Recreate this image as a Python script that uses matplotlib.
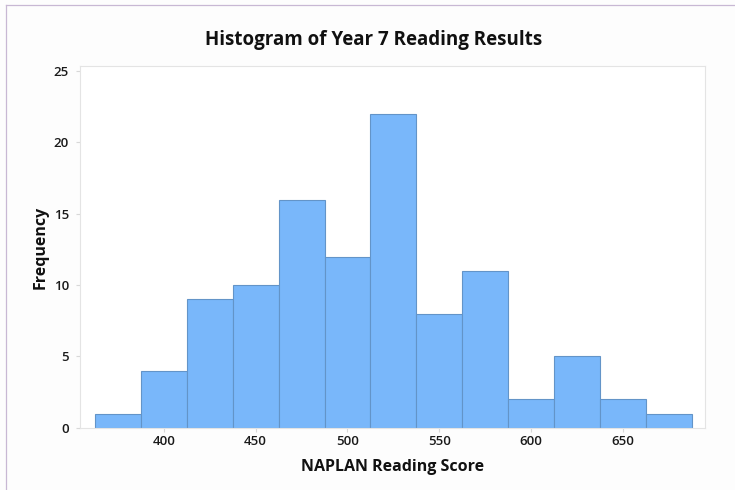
import numpy as np
import matplotlib.pyplot as plt
from matplotlib.lines import Line2D

plt.rcParams['font.family'] = ['Open Sans', 'DejaVu Sans']

# bin centres and counts
bin_centres = [375, 400, 425, 450, 475, 500, 525, 550, 575, 600, 625, 650, 675]
counts = [1, 4, 9, 10, 16, 12, 22, 8, 11, 2, 5, 2, 1]
bin_width = 25
x_ticks = [400, 450, 500, 550, 600, 650]
y_ticks = [0, 5, 10, 15, 20, 25]

fig = plt.figure(figsize=(7.35, 4.9), dpi=100)
fig.patch.set_facecolor('#fdfdfd')
ax = fig.add_axes([0.109, 0.127, 0.850, 0.738])
ax.set_facecolor('white')

ax.bar(bin_centres, counts, width=bin_width, color='#79b7fa',
       edgecolor='#6394c8', linewidth=0.8, zorder=2)

ax.set_xlim(354.5, 694.5)
ax.set_ylim(0, 25.35)
ax.set_xticks(x_ticks)
ax.set_yticks(y_ticks)
ax.tick_params(axis='both', length=3, color='#d8d8d8', labelsize=9.5, pad=5)
ax.tick_params(axis='x', pad=2)
for lab in ax.get_xticklabels() + ax.get_yticklabels():
    lab.set_fontweight('semibold')
    lab.set_color('#1a1a1a')
for s in ax.spines.values():
    s.set_color('#e4e4e4')
    s.set_linewidth(0.8)

fig.text(0.509, 0.918, 'Histogram of Year 7 Reading Results', fontsize=13.5,
         fontweight='bold', color='#111111', ha='center', va='center')
ax.set_xlabel('NAPLAN Reading Score', fontsize=11.5, fontweight='bold',
              color='#111111', labelpad=8)
ax.set_ylabel('Frequency', fontsize=11.5, fontweight='bold',
              color='#111111', labelpad=4)

# screenshot frame edges
fig.add_artist(Line2D([0.008, 0.008], [0, 0.99], color='#c8b8d4', lw=0.9))
fig.add_artist(Line2D([0.008, 1], [0.99, 0.99], color='#c8b8d4', lw=0.9))

fig.savefig('out.png', dpi=100, facecolor=fig.get_facecolor())
